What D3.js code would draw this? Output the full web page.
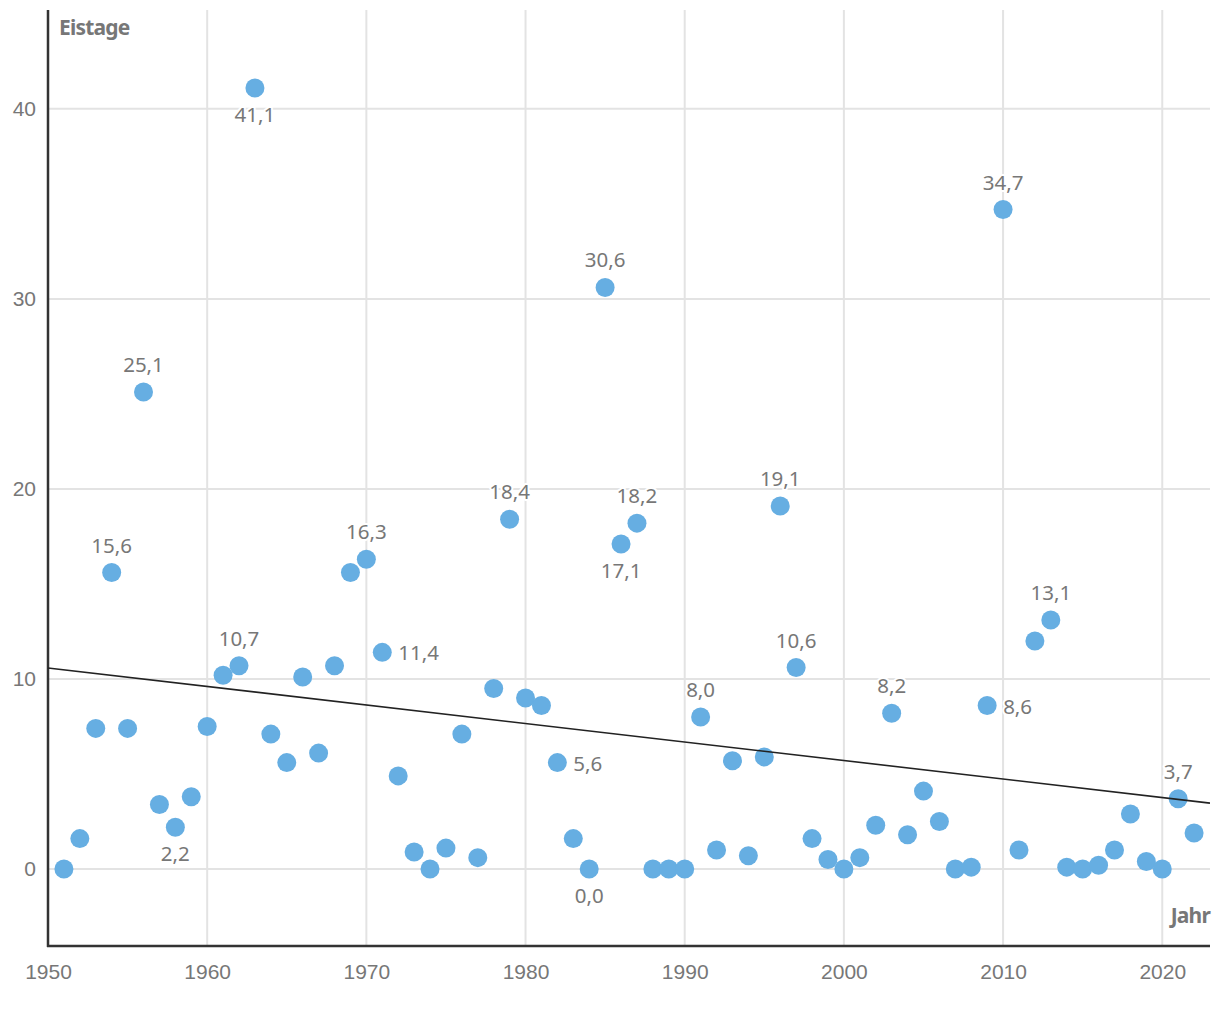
<!DOCTYPE html>
<html><head><meta charset="utf-8">
<script src="https://cdn.jsdelivr.net/npm/d3@7"></script>
<style>
html,body{margin:0;padding:0;background:#fff;}
svg{display:block;font-family:"Noto Sans","Open Sans",sans-serif;}
</style></head>
<body>
<script>
const years = d3.range(1951, 2023);
const eistage = [
 0.0,1.6,7.4,15.6,7.4,25.1,3.4,2.2,3.8,7.5,
 10.2,10.7,41.1,7.1,5.6,10.1,6.1,10.7,15.6,16.3,
 11.4,4.9,0.9,0.0,1.1,7.1,0.6,9.5,18.4,9.0,
 8.6,5.6,1.6,0.0,30.6,17.1,18.2,0.0,0.0,0.0,
 8.0,1.0,5.7,0.7,5.9,19.1,10.6,1.6,0.5,0.0,
 0.6,2.3,8.2,1.8,4.1,2.5,0.0,0.1,8.6,34.7,
 1.0,12.0,13.1,0.1,0.0,0.2,1.0,2.9,0.4,0.0,
 3.7,1.9
];
const labelYears = [1954,1956,1958,1962,1963,1970,1971,1979,1982,1984,1985,1986,1987,1991,1996,1997,2003,2009,2010,2013,2021];
const labelSides = ["t","t","b","t","b","t","r","t","r","b","t","b","t","t","t","t","t","r","t","t","t"];
const trendYears = [1950, 2023];
const trendValues = [10.58, 3.47];
const xTicks = [1950,1960,1970,1980,1990,2000,2010,2020];
const yTicks = [0,10,20,30,40];

const W = 1220, H = 1014;
const x = d3.scaleLinear().domain([1950, 2023]).range([48, 1210]);
const y = d3.scaleLinear().domain([-4.05, 45.2]).range([946, 10]);

const svg = d3.select("body").append("svg").attr("width", W).attr("height", H);
const data = years.map((yr,i)=>({yr, v: eistage[i]}));

// gridlines
svg.append("g").selectAll("line").data(xTicks.slice(1)).join("line")
  .attr("x1", d=>x(d)).attr("x2", d=>x(d)).attr("y1", 10).attr("y2", 946)
  .attr("stroke", "#e3e3e3").attr("stroke-width", 2);
svg.append("g").selectAll("line").data(yTicks).join("line")
  .attr("x1", 48).attr("x2", 1210).attr("y1", d=>y(d)).attr("y2", d=>y(d))
  .attr("stroke", "#e3e3e3").attr("stroke-width", 2);

// axes
const xAxis = svg.append("g").attr("transform", "translate(0,946)")
  .call(d3.axisBottom(x).tickValues(xTicks).tickFormat(d3.format("d")).tickSize(0).tickPadding(18));
xAxis.select(".domain").remove();
xAxis.selectAll("text").attr("font-size", 21).attr("fill", "#777").attr("font-family", "inherit");
const yAxis = svg.append("g").attr("transform", "translate(48,0)")
  .call(d3.axisLeft(y).tickValues(yTicks).tickFormat(d3.format("d")).tickSize(0).tickPadding(12));
yAxis.select(".domain").remove();
yAxis.selectAll("text").attr("font-size", 21).attr("fill", "#777").attr("font-family", "inherit");

svg.append("line").attr("x1", 48).attr("x2", 48).attr("y1", 10).attr("y2", 947)
  .attr("stroke", "#333").attr("stroke-width", 2.5);
svg.append("line").attr("x1", 47).attr("x2", 1210).attr("y1", 946).attr("y2", 946)
  .attr("stroke", "#333").attr("stroke-width", 2.5);

// axis titles
svg.append("text").attr("x", 59).attr("y", 35).text("Eistage")
  .attr("font-size", 21).attr("font-weight", "bold").attr("fill", "#777").attr("letter-spacing", -0.8);
svg.append("text").attr("x", 1210).attr("y", 923).attr("text-anchor", "end").text("Jahr")
  .attr("font-size", 21).attr("font-weight", "bold").attr("fill", "#777").attr("letter-spacing", -0.8);

// dots
svg.append("g").selectAll("circle").data(data).join("circle")
  .attr("cx", d=>x(d.yr)).attr("cy", d=>y(d.v)).attr("r", 9.5).attr("fill", "#66aee2");

// trend line
svg.append("line")
  .attr("x1", x(trendYears[0])).attr("y1", y(trendValues[0]))
  .attr("x2", x(trendYears[1])).attr("y2", y(trendValues[1]))
  .attr("stroke", "#222").attr("stroke-width", 1.6);

// labels
const fmt = v => d3.format(".1f")(v).replace(".", ",");
const lab = labelYears.map((yr,i)=>({yr, v: eistage[years.indexOf(yr)], s: labelSides[i]}));
svg.append("g").selectAll("text").data(lab).join("text")
  .attr("x", d=> d.s==="r" ? x(d.yr)+16 : x(d.yr))
  .attr("y", d=> d.s==="t" ? y(d.v)-20 : d.s==="b" ? y(d.v)+34 : y(d.v)+8)
  .attr("text-anchor", d=> d.s==="r" ? "start" : "middle")
  .attr("font-size", 20.5).attr("fill", "#777")
  .attr("stroke", "#fff").attr("stroke-width", 4).attr("paint-order", "stroke").attr("stroke-linejoin","round")
  .text(d=>fmt(d.v));
</script>
</body></html>
